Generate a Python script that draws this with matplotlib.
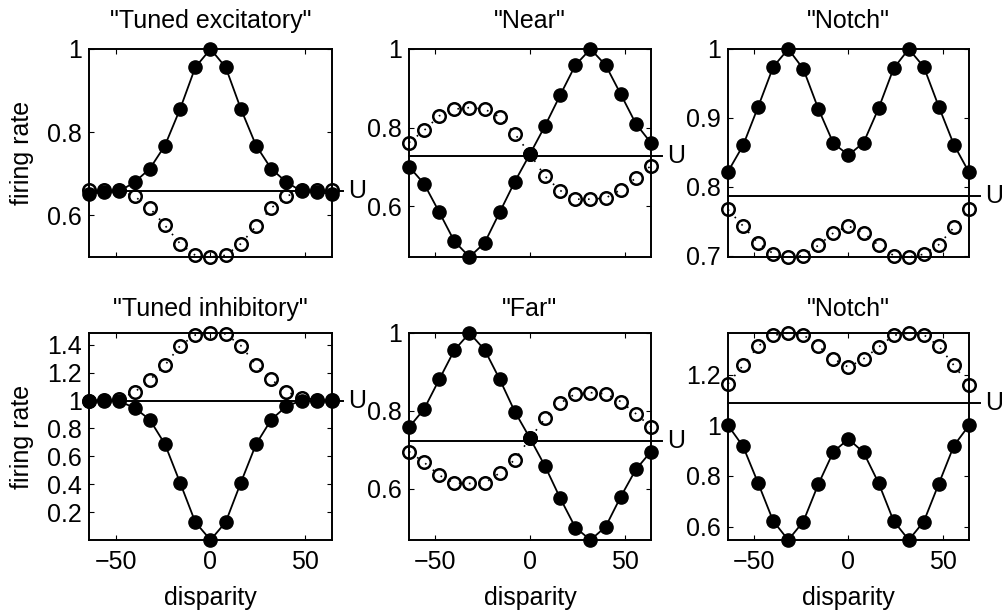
## disparity tuning curves, 2x3 panels in the old matlab look
import numpy as np
import matplotlib
matplotlib.use('Agg')
import matplotlib.pyplot as plt
from matplotlib.ticker import FormatStrFormatter

plt.rcParams['font.family'] = ['Liberation Sans', 'DejaVu Sans']

## x values shared by every panel
disparity = [-64, -56, -48, -40, -32, -24, -16, -8, 0, 8, 16, 24, 32, 40, 48, 56, 64]

## "Tuned excitatory"
exc_filled = [0.652, 0.656, 0.658, 0.680, 0.712, 0.768, 0.856, 0.956, 1.000,
              0.956, 0.856, 0.768, 0.712, 0.680, 0.658, 0.656, 0.652]
exc_open = [0.660, 0.662, 0.660, 0.646, 0.618, 0.576, 0.532, 0.504, 0.500,
            0.504, 0.532, 0.574, 0.618, 0.646, 0.660, 0.660, 0.660]
exc_u = 0.658

## "Near"
near_filled = [0.701, 0.657, 0.585, 0.511, 0.471, 0.507, 0.585, 0.663, 0.733,
               0.805, 0.883, 0.959, 1.000, 0.959, 0.885, 0.810, 0.761]
near_open = [0.762, 0.793, 0.830, 0.847, 0.851, 0.847, 0.827, 0.784, 0.733,
             0.676, 0.640, 0.618, 0.618, 0.621, 0.642, 0.672, 0.703]
near_u = 0.728

## "Notch" (top)
notch1_filled = [0.822, 0.860, 0.916, 0.974, 1.000, 0.971, 0.913, 0.863, 0.846,
                 0.864, 0.914, 0.972, 1.000, 0.974, 0.916, 0.861, 0.821]
notch1_open = [0.767, 0.743, 0.718, 0.703, 0.698, 0.700, 0.715, 0.733, 0.743,
               0.733, 0.715, 0.700, 0.698, 0.702, 0.716, 0.741, 0.767]
notch1_u = 0.787

## "Tuned inhibitory"
inh_filled = [1.000, 1.000, 0.995, 0.947, 0.863, 0.687, 0.410, 0.128, 0.000,
              0.128, 0.412, 0.687, 0.863, 0.959, 1.000, 1.000, 1.000]
inh_open = [1.000, 1.007, 1.012, 1.060, 1.147, 1.253, 1.393, 1.470, 1.484,
            1.477, 1.393, 1.255, 1.152, 1.063, 1.019, 1.007, 1.002]
inh_u = 1.0

## "Far"
far_filled = [0.758, 0.805, 0.881, 0.956, 1.000, 0.957, 0.881, 0.798, 0.730,
              0.658, 0.576, 0.501, 0.469, 0.503, 0.580, 0.650, 0.696]
far_open = [0.696, 0.668, 0.635, 0.615, 0.614, 0.615, 0.641, 0.675, 0.730,
            0.781, 0.820, 0.844, 0.847, 0.844, 0.824, 0.793, 0.759]
far_u = 0.724

## "Notch" (bottom)
notch2_filled = [1.000, 0.917, 0.772, 0.622, 0.547, 0.620, 0.768, 0.896, 0.946,
                 0.893, 0.772, 0.622, 0.547, 0.620, 0.770, 0.920, 1.000]
notch2_open = [1.164, 1.237, 1.313, 1.356, 1.365, 1.358, 1.313, 1.263, 1.230,
               1.263, 1.309, 1.356, 1.365, 1.358, 1.313, 1.237, 1.161]
notch2_u = 1.089

titles = ['"Tuned excitatory"', '"Near"', '"Notch"',
          '"Tuned inhibitory"', '"Far"', '"Notch"']
filled_sets = [exc_filled, near_filled, notch1_filled, inh_filled, far_filled, notch2_filled]
open_sets = [exc_open, near_open, notch1_open, inh_open, far_open, notch2_open]
u_levels = [exc_u, near_u, notch1_u, inh_u, far_u, notch2_u]
yticks = [[0.6, 0.8, 1], [0.6, 0.8, 1], [0.7, 0.8, 0.9, 1],
          [0.2, 0.4, 0.6, 0.8, 1, 1.2, 1.4], [0.6, 0.8, 1], [0.6, 0.8, 1, 1.2]]
xticks = [-50, 0, 50]

W, H = 1003, 614
fig = plt.figure(figsize=(W / 100, H / 100), dpi=100)

col_left = [89, 409, 728]
col_width = [243, 242, 241]
row_top = [49, 333]
row_height = [208, 207]

fs = 18
for i in range(6):
    r, c = divmod(i, 3)
    rect = [col_left[c] / W, 1 - (row_top[r] + row_height[r]) / H,
            col_width[c] / W, row_height[r] / H]
    ax = fig.add_axes(rect)

    f = filled_sets[i]
    o = open_sets[i]
    ax.plot(disparity, f, '-', color='black', lw=1.3, marker='o', ms=9.5,
            mfc='black', mec='black', clip_on=False, zorder=3)
    ax.plot(disparity, o, color='black', lw=1.2, ls=(0, (1, 5)), marker='o', ms=9,
            mfc='none', mec='black', mew=1.8, clip_on=False, zorder=4)
    ## U line runs a bit past the right spine
    ax.plot([disparity[0], 70], [u_levels[i], u_levels[i]], color='black', lw=1.4,
            clip_on=False, zorder=2)
    ax.text(72.5, u_levels[i], 'U', fontsize=fs, ha='left', va='center', clip_on=False)

    ax.set_xlim(disparity[0], disparity[-1])
    ax.set_ylim(min(min(f), min(o)), max(max(f), max(o)))
    ax.set_xticks(xticks)
    ax.set_yticks(yticks[i])
    ax.yaxis.set_major_formatter(FormatStrFormatter('%g'))
    ax.tick_params(direction='in', top=True, right=True, length=3.5, width=0.8,
                   labelsize=fs)
    ax.tick_params(axis='x', pad=7)
    ax.tick_params(axis='y', pad=5)
    if r == 0:
        ax.set_xticklabels([])
    for sp in ax.spines.values():
        sp.set_linewidth(1.4)

    ax.set_title(titles[i], fontsize=fs, pad=15 if r == 0 else 12)
    if c == 0:
        ax.set_ylabel('firing rate', fontsize=fs)
        ax.yaxis.set_label_coords(-0.225, 0.5)
    if r == 1:
        ax.set_xlabel('disparity', fontsize=fs)
        ax.xaxis.set_label_coords(0.5, -0.22)

fig.savefig('out.png', dpi=100)
